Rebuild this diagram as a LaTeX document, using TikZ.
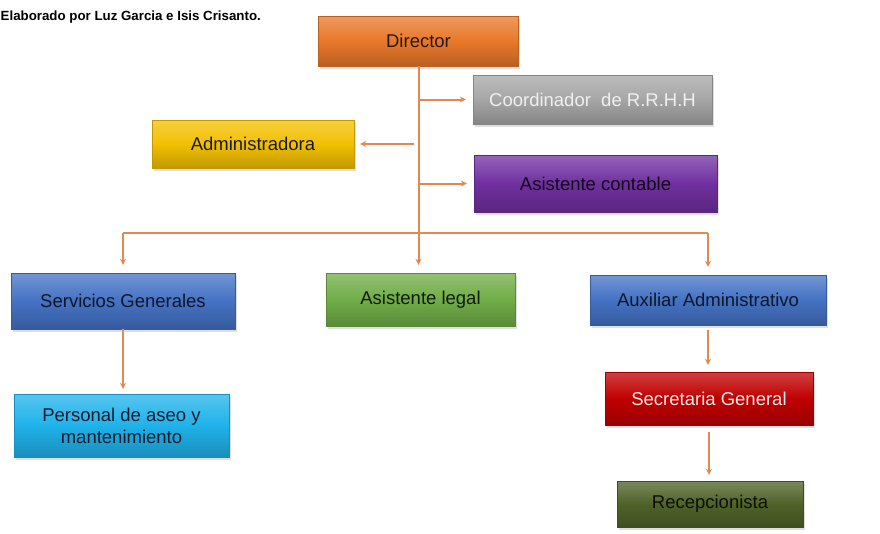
\documentclass[tikz,border=0pt]{standalone}
\usepackage{fontspec}
\setmainfont{Liberation Sans}
\usetikzlibrary{arrows.meta,shadows}
\definecolor{cDir}{HTML}{E8782A}
\definecolor{cCoord}{HTML}{A6A6A6}
\definecolor{cAdm}{HTML}{F2C000}
\definecolor{cCont}{HTML}{7030A0}
\definecolor{cBlue}{HTML}{4472C4}
\definecolor{cLegal}{HTML}{70AD47}
\definecolor{cPers}{HTML}{1FB2EA}
\definecolor{cSec}{HTML}{C00000}
\definecolor{cRec}{HTML}{4F6228}
\definecolor{cLine}{HTML}{E08A50}
\tikzset{
  box/.style={draw=#1!80!black, line width=0.4pt, top color=#1!75!white, bottom color=#1!80!black, middle color=#1,
    drop shadow={opacity=0.25, shadow xshift=1.5pt, shadow yshift=-2.5pt},
    font=\fontsize{18.5}{22}\selectfont, align=center, inner sep=2pt},
  conn/.style={draw=cLine, line width=2pt},
  arr/.style={conn, -{Stealth[length=6pt,width=6pt]}},
}
\begin{document}
\begin{tikzpicture}[x=1pt,y=-1pt]
\useasboundingbox (0,0) rectangle (880,533);
\fill[white] (0,0) rectangle (880,533);
\node[anchor=west, inner sep=0pt, font=\bfseries\fontsize{13.3}{15}\selectfont] (title) at (0.5,17) {Elaborado por Luz Garcia e Isis Crisanto.};

\node[box=cDir, minimum width=200pt, minimum height=50pt, text=black!80!brown] (dir) at (418.5,41) {Director};
\node[box=cCoord, minimum width=239pt, minimum height=49pt, text=white!94!black] (coord) at (592.5,99.5) {Coordinador\ \ de R.R.H.H};
\node[box=cAdm, minimum width=202pt, minimum height=48pt, text=black!90] (adm) at (253,144) {Administradora};
\node[box=cCont, minimum width=243pt, minimum height=57pt, text=black!85!cCont] (cont) at (595.5,183.5) {Asistente contable};
\node[box=cBlue, minimum width=224pt, minimum height=56pt, text=black!80!cBlue] (serv) at (123,301) {Servicios Generales};
\node[box=cLegal, minimum width=189pt, minimum height=53pt, text=black!85!cLegal] (legal) at (420.5,299.5) {Asistente legal};
\node[box=cBlue, minimum width=236pt, minimum height=50pt, text=black!80!cBlue] (aux) at (708,300) {Auxiliar Administrativo};
\node[box=cPers, minimum width=215pt, minimum height=63pt, text=black!75!cBlue] (pers) at (121.5,425.5) {Personal de aseo y\\mantenimiento};
\node[box=cSec, minimum width=208pt, minimum height=53pt, text=white!92!red] (sec) at (709,398.5) {Secretaria General};
\node[box=cRec, minimum width=186pt, minimum height=46pt, text=black!85!cRec] (rec) at (710,504) {Recepcionista};

\coordinate (bus) at (418.5,233);
% trunk from Director to Asistente legal
\draw[arr, shorten >=8pt] (dir.south) -- (dir.south |- legal.north);
% side branches
\draw[arr, shorten >=7pt] (dir.south |- coord.west) -- (coord.west);
\draw[arr, shorten <=5pt, shorten >=6pt] (dir.south |- adm.east) -- (adm.east);
\draw[arr, shorten >=7pt] (dir.south |- cont.west) -- (cont.west);
% horizontal bus
\draw[conn] (serv.north |- bus) -- (aux.north |- bus);
\draw[arr, shorten >=8pt] (serv.north |- bus) -- (serv.north);
\draw[arr, shorten >=8pt] (aux.north |- bus) -- (aux.north);
% lower chains
\draw[arr, shorten >=5pt] (serv.south) -- (serv.south |- pers.north);
\draw[arr, shorten <=5pt, shorten >=7pt] (aux.south) -- (aux.south |- sec.north);
\draw[arr, shorten <=7pt, shorten >=6pt] (sec.south) -- (sec.south |- rec.north);
\end{tikzpicture}
\end{document}
